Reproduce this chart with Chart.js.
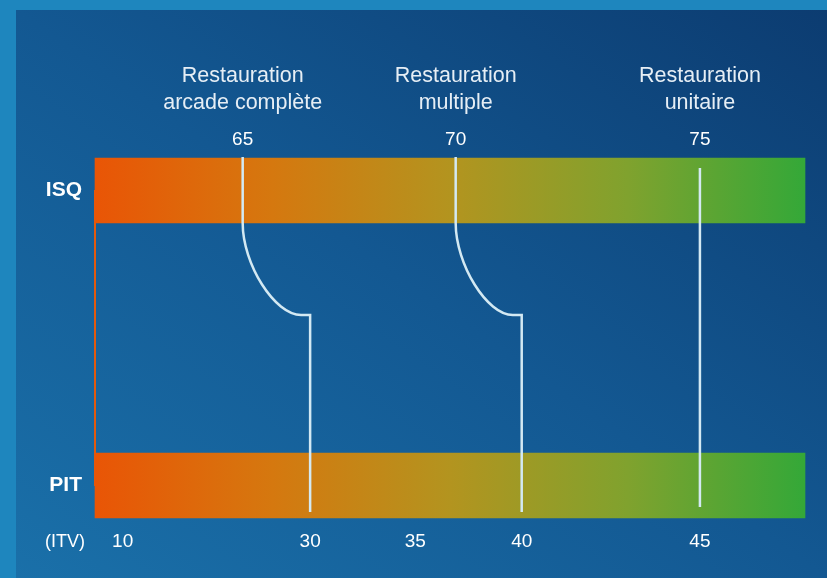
<!DOCTYPE html>
<html>
<head>
<meta charset="utf-8">
<script src="https://cdn.jsdelivr.net/npm/chart.js@4.4.1/dist/chart.umd.min.js"></script>
<style>
    html, body { margin: 0; padding: 0; }
    body { width: 827px; height: 578px; background: #1e86be; position: relative; overflow: hidden; }
    .panel {
        position: absolute; left: 16px; top: 10px; right: 0; bottom: 0;
        background: linear-gradient(to top right, #1a70a9 0%, #135892 50%, #0c3c71 100%);
    }
    #chart { position: absolute; left: 0; top: 0; }
</style>
</head>
<body>
<div class="panel"></div>
<canvas id="chart" width="827" height="578"></canvas>
<script>
// Rows of the gauge
var rows = ['ISQ', 'PIT'];

// Restoration types with their ISQ threshold
var restorations = [['Restauration', 'arcade complète'], ['Restauration', 'multiple'], ['Restauration', 'unitaire']];
var isqValues = [65, 70, 75];
// ITV threshold linked to each restoration
var itvLinked = [30, 40, 45];

// ITV tick labels under the PIT bar
var itvTicks = [10, 30, 35, 40, 45];

// Where each value sits on the 0-100 stability gauge
var isqGauge = [20.8, 50.8, 85.2];
var itvGauge = [3.9, 30.3, 45.1, 60.1, 85.2];
var gaugeMin = 0, gaugeMax = 100;

var FONT = "'Liberation Sans', Arial, Helvetica, sans-serif";
var gaugeColors = ['#e95506', '#d5780f', '#b3941f', '#80a22e', '#34a838'];
var lineColor = '#d3e9f3';

function barGradient(ctx) {
    var area = ctx.chart.chartArea;
    if (!area) return gaugeColors[0];
    var g = ctx.chart.ctx.createLinearGradient(area.left, 0, area.right, 0);
    gaugeColors.forEach(function(c, i) { g.addColorStop(i / (gaugeColors.length - 1), c); });
    return g;
}

// White links from ISQ threshold to matching ITV threshold
var connectors = {
    id: 'connectors',
    afterDatasetsDraw: function(chart) {
        var x = chart.scales.x;
        var meta = chart.getDatasetMeta(0);
        var a = meta.data[0].getProps(['y', 'height'], true);
        var b = meta.data[1].getProps(['y', 'height'], true);
        var isqTop = a.y - a.height / 2, isqBottom = a.y + a.height / 2;
        var pitTop = b.y - b.height / 2, pitBottom = b.y + b.height / 2;
        var bendY = isqBottom + (pitTop - isqBottom) * 0.4;
        var c = chart.ctx;
        c.save();
        c.strokeStyle = lineColor;
        c.lineWidth = 2.5;
        c.lineJoin = 'miter';
        isqValues.forEach(function(v, i) {
            var xi = x.getPixelForValue(isqGauge[i]);
            var xo = x.getPixelForValue(itvGauge[itvTicks.indexOf(itvLinked[i])]);
            c.beginPath();
            if (Math.abs(xo - xi) < 1) {
                // straight link, sits a little inside both bars
                c.moveTo(xi, isqTop + 10);
                c.lineTo(xi, pitBottom - 11);
            } else {
                var xe = xo - 9;
                var dx = xe - xi, dy = bendY - isqBottom;
                c.moveTo(xi, isqTop - 1);
                c.lineTo(xi, isqBottom);
                c.bezierCurveTo(xi, isqBottom + 0.45 * dy, xe - 0.45 * dx, bendY, xe, bendY);
                c.lineTo(xo, bendY);
                c.lineTo(xo, pitBottom - 6);
            }
            c.stroke();
        });
        c.restore();
    }
};

// "(ITV)" caption left of the bottom ticks
var itvCaption = {
    id: 'itvCaption',
    afterDraw: function(chart) {
        var s = chart.scales.x;
        var c = chart.ctx;
        c.save();
        c.fillStyle = '#ffffff';
        c.font = '18px ' + FONT;
        c.textAlign = 'right';
        c.textBaseline = 'middle';
        c.fillText('(ITV)', chart.chartArea.left - 10, s.top + 45 + 11.4);
        c.restore();
    }
};

function topAxis(weight, labels, size, lineHeight, padding, height, color) {
    return {
        type: 'linear', axis: 'x', position: 'top', weight: weight,
        min: gaugeMin, max: gaugeMax,
        grid: { display: false, drawTicks: false },
        border: { display: false },
        afterBuildTicks: function(s) { s.ticks = isqGauge.map(function(v) { return { value: v }; }); },
        ticks: {
            autoSkip: false, maxRotation: 0, padding: padding, color: color,
            font: { family: FONT, size: size, lineHeight: lineHeight },
            callback: function(v, i) { return labels[i]; }
        },
        afterFit: function(s) { s.height = height; }
    };
}

new Chart(document.getElementById('chart'), {
    type: 'bar',
    data: {
        labels: rows,
        datasets: [{
            data: rows.map(function() { return [gaugeMin, gaugeMax]; }),
            backgroundColor: barGradient,
            borderWidth: 0,
            barThickness: 65,
            clip: false
        }]
    },
    options: {
        indexAxis: 'y',
        responsive: false,
        animation: false,
        layout: { padding: { top: 40, right: 22, bottom: 0, left: 0 } },
        plugins: { legend: { display: false }, tooltip: { enabled: false } },
        scales: {
            y: {
                type: 'category', offset: false,
                grid: { display: false, drawTicks: false },
                border: { display: true, color: '#e35a0d', width: 2 },
                ticks: { color: '#ffffff', padding: 13, font: { family: FONT, size: 21, weight: 'bold' } },
                afterFit: function(s) { s.width = 95; }
            },
            x: {
                type: 'linear', position: 'bottom', min: gaugeMin, max: gaugeMax,
                grid: { display: false, drawTicks: false },
                border: { display: false },
                afterBuildTicks: function(s) { s.ticks = itvGauge.map(function(v) { return { value: v }; }); },
                ticks: {
                    autoSkip: false, maxRotation: 0, padding: 45, color: '#ffffff',
                    font: { family: FONT, size: 19 },
                    callback: function(v, i) { return itvTicks[i]; }
                },
                afterFit: function(s) { s.height = 92.5; }
            },
            xIsq: topAxis(0, isqValues, 19, 1.2, 39.6, 70.5, '#ffffff'),
            xType: topAxis(1, restorations, 21.5, 1.26, 3.5, 80, '#e6eef5')
        }
    },
    plugins: [connectors, itvCaption]
});
</script>
</body>
</html>
